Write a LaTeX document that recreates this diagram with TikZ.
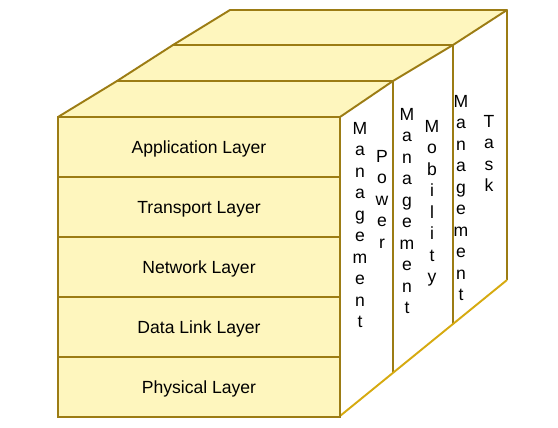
\documentclass[tikz,border=0pt]{standalone}
\usepackage{fontspec}
\setmainfont{Liberation Sans}
\usetikzlibrary{positioning}
\definecolor{rim}{HTML}{9C7C14}
\definecolor{slab}{HTML}{FEF6BE}
\definecolor{base}{HTML}{D6AA10}
\tikzstyle{layer} = [ draw=rim, fill=slab, line width=1.1pt, rectangle, minimum width=5.64cm, minimum height=1.2cm, inner sep=0pt, outer sep=0pt, text height=9.6pt, text depth=2.1pt, font=\fontsize{10}{12}\selectfont]
\tikzstyle{lid} = [draw=rim, fill=slab, line width=1.1pt, line join=round]
\tikzstyle{divider} = [draw=rim, line width=1.1pt]
\tikzstyle{vtext} = [anchor=north, align=center, inner sep=0pt, font=\fontsize{10}{12.24}\selectfont]

\begin{document}
\begin{tikzpicture}[x=0.02cm, y=-0.02cm]
	\useasboundingbox (0,0) rectangle (558,428);

	% top of the block, back to front
	\draw[lid] (173,45) -- (453,45) -- (507,10) -- (230,10) -- cycle;
	\draw[lid] (117,81) -- (393,81) -- (453,45) -- (173,45) -- cycle;
	\draw[lid] (58,117) -- (340,117) -- (393,81) -- (117,81) -- cycle;

	% side of the block
	\draw[divider] (393,81) -- (393,372);
	\draw[divider] (453,45) -- (453,324);
	\draw[divider] (507,10) -- (507,280);
	\draw[line width=1.1pt, draw=base] (340,416) -- (507,280);

	% protocol layers
	\node[layer] (app) at (199,147) {Application Layer};
	\node[layer, below=0pt of app] (trans) {Transport Layer};
	\node[layer, below=0pt of trans] (net) {Network Layer};
	\node[layer, below=0pt of net] (link) {Data Link Layer};
	\node[layer, below=0pt of link] (phys) {Physical Layer};

	% management planes
	\node[vtext] (pwrm) at (360,122) {M\\a\\n\\a\\g\\e\\m\\e\\n\\t};
	\node[vtext] (pwr) at (382,150) {P\\o\\w\\e\\r};
	\node[vtext] (mobm) at (407,108) {M\\a\\n\\a\\g\\e\\m\\e\\n\\t};
	\node[vtext] (mob) at (432,120) {M\\o\\b\\i\\l\\i\\t\\y};
	\node[vtext] (taskm) at (461,95) {M\\a\\n\\a\\g\\e\\m\\e\\n\\t};
	\node[vtext] (task) at (489,115) {T\\a\\s\\k};
\end{tikzpicture}
\end{document}
